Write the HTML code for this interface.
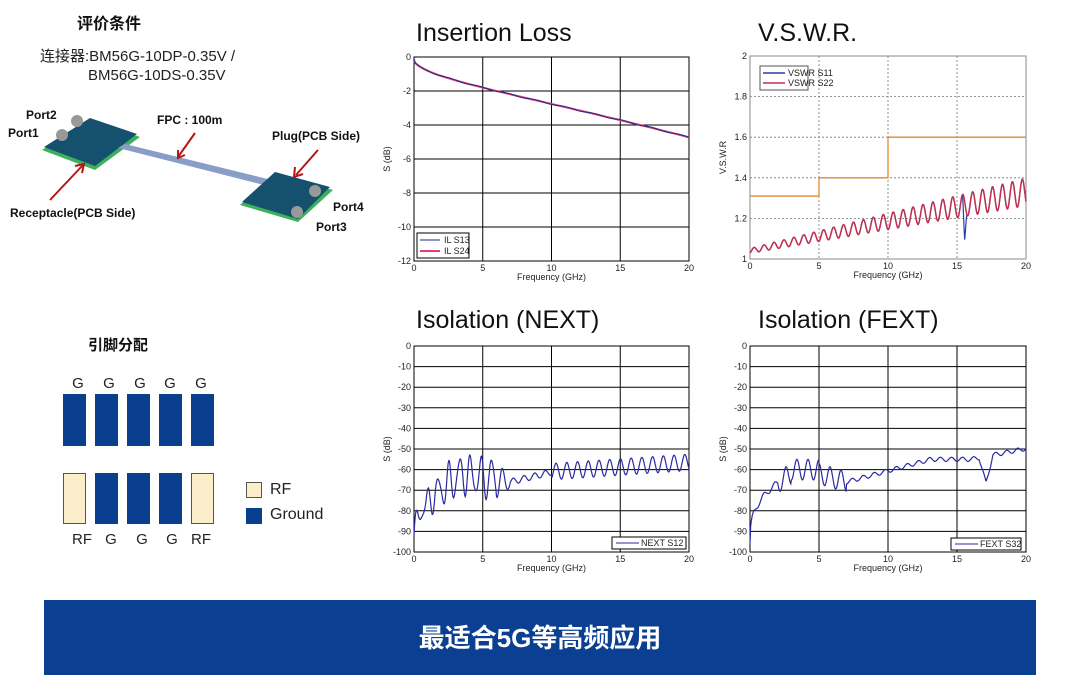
<!DOCTYPE html>
<html><head><meta charset="utf-8"><style>
html,body{margin:0;padding:0;background:#fff;}
svg{display:block;font-family:"Liberation Sans","Noto Sans CJK SC",sans-serif;}
.t{font-size:9px;fill:#222}
.ti{font-size:25px;fill:#111}
</style></head><body>
<svg id="s" width="1070" height="687" viewBox="0 0 1070 687" xmlns="http://www.w3.org/2000/svg">
<rect width="1070" height="687" fill="#fff"/>
<text x="77" y="29" font-size="16" font-weight="bold" fill="#111">评价条件</text>
<text x="40" y="61" font-size="15" fill="#222">连接器:BM56G-10DP-0.35V /</text>
<text x="88" y="80" font-size="15" fill="#222">BM56G-10DS-0.35V</text>
<polygon points="42,150 90,120 140,137 95,170" fill="#3cb05a"/>
<polygon points="44,147 90,118 137,134 95,166" fill="#15506e"/>
<polygon points="118,148 125,144 280,182 272,187" fill="#8a9cc8"/>
<polygon points="240,205 275,175 333,190 298,222" fill="#3cb05a"/>
<polygon points="242,202 275,172 330,187 298,219" fill="#15506e"/>
<circle cx="62" cy="135" r="6" fill="#999"/><circle cx="77" cy="121" r="6" fill="#999"/>
<circle cx="297" cy="212" r="6" fill="#999"/><circle cx="315" cy="191" r="6" fill="#999"/>
<text x="26" y="119" font-size="12" font-weight="bold" fill="#111">Port2</text>
<text x="8" y="137" font-size="12" font-weight="bold" fill="#111">Port1</text>
<text x="157" y="124" font-size="12" font-weight="bold" fill="#111">FPC : 100m</text>
<text x="272" y="140" font-size="12" font-weight="bold" fill="#111">Plug(PCB Side)</text>
<text x="10" y="217" font-size="12" font-weight="bold" fill="#111">Receptacle(PCB Side)</text>
<text x="333" y="211" font-size="12" font-weight="bold" fill="#111">Port4</text>
<text x="316" y="231" font-size="12" font-weight="bold" fill="#111">Port3</text>
<g stroke="#b01818" stroke-width="2" fill="none">
<line x1="195" y1="133" x2="178" y2="157"/><polyline points="178,150 178,158 185,155"/>
<line x1="318" y1="150" x2="296" y2="175"/><polyline points="295,167 294,177 303,174"/>
<line x1="50" y1="200" x2="83" y2="165"/><polyline points="75,166 84,164 82,173"/>
</g>
<text x="88" y="350" font-size="15" font-weight="bold" fill="#111">引脚分配</text>
<g font-size="15" fill="#222" text-anchor="middle">
<text x="78" y="388">G</text><text x="109" y="388">G</text><text x="140" y="388">G</text><text x="170" y="388">G</text><text x="201" y="388">G</text>
<text x="82" y="544">RF</text><text x="111" y="544">G</text><text x="142" y="544">G</text><text x="172" y="544">G</text><text x="201" y="544">RF</text>
</g>
<g fill="#0a3f8f">
<rect x="63" y="394" width="23" height="52"/><rect x="95" y="394" width="23" height="52"/><rect x="127" y="394" width="23" height="52"/><rect x="159" y="394" width="23" height="52"/><rect x="191" y="394" width="23" height="52"/>
<rect x="95" y="473" width="23" height="51"/><rect x="127" y="473" width="23" height="51"/><rect x="159" y="473" width="23" height="51"/>
<rect x="246" y="508" width="16" height="16"/>
</g>
<g fill="#fbeecb" stroke="#555" stroke-width="1">
<rect x="63.5" y="473.5" width="22" height="50"/><rect x="191.5" y="473.5" width="22" height="50"/><rect x="246.5" y="482.5" width="15" height="15"/>
</g>
<text x="270" y="494" font-size="16" fill="#222">RF</text>
<text x="270" y="519" font-size="16" fill="#222">Ground</text>
<text class="ti" x="416" y="41">Insertion Loss</text>
<text class="ti" x="758" y="41">V.S.W.R.</text>
<text class="ti" x="416" y="328">Isolation (NEXT)</text>
<text class="ti" x="758" y="328">Isolation (FEXT)</text>
<g id="plots"></g>
<rect x="44" y="600" width="992" height="75" fill="#0b3f91"/>
<text x="540" y="647" font-size="26" font-weight="bold" fill="#fff" text-anchor="middle">最适合5G等高频应用</text>
</svg>
<script>
var NS="http://www.w3.org/2000/svg",G=document.getElementById("plots");
function el(t,a,txt){var e=document.createElementNS(NS,t);for(var k in a)e.setAttribute(k,a[k]);if(txt!=null)e.textContent=txt;G.appendChild(e);return e;}
function plot(o){
 var x0=o.x0,x1=o.x1,y0=o.y0,y1=o.y1;
 el("rect",{x:x0,y:y0,width:x1-x0,height:y1-y0,fill:"#fff",stroke:o.dash?"#888":"#000","stroke-width":1});
 for(var i=0;i<=4;i++){var x=x0+(x1-x0)*i/4;
  if(i>0&&i<4)el("line",{x1:x,y1:y0,x2:x,y2:y1,stroke:o.dash?"#777":"#000","stroke-width":o.dash?0.8:1,"stroke-dasharray":o.dash?"2,2":""});
  el("text",{x:x,y:y1+10,"text-anchor":"middle",class:"t"},String(i*5));}
 var n=o.ticks.length-1;
 for(var j=0;j<=n;j++){var y=y0+(y1-y0)*j/n;
  if(j>0&&j<n)el("line",{x1:x0,y1:y,x2:x1,y2:y,stroke:o.dash?"#777":"#000","stroke-width":o.dash?0.8:1,"stroke-dasharray":o.dash?"2,2":""});
  el("text",{x:x0-3,y:y+3,"text-anchor":"end",class:"t"},o.ticks[j]);}
 el("text",{x:(x0+x1)/2,y:y1+19,"text-anchor":"middle",class:"t","font-size":"10"},"Frequency (GHz)");
 el("text",{transform:"translate("+(x0-24)+","+((y0+y1)/2)+") rotate(-90)","text-anchor":"middle",class:"t"},o.ylab);
 var X=function(f){return x0+(x1-x0)*f/20},Y=function(v){return y0+(y1-y0)*(o.top-v)/(o.top-o.bot)};
 o.series.forEach(function(s){var d="";for(var f=0;f<=20.0001;f+=0.04){var v=s.fn(f);d+=(d?"L":"M")+X(f).toFixed(1)+","+Y(v).toFixed(1);}
  el("path",{d:d,fill:"none",stroke:s.c,"stroke-width":s.w||1});});
 return {X:X,Y:Y};
}
plot({x0:414,x1:689,y0:57,y1:261,top:0,bot:-12,ticks:["0","-2","-4","-6","-8","-10","-12"],ylab:"S (dB)",
 series:[{c:"#e0407a",w:2,fn:function(f){return -0.15-0.62*Math.sqrt(f)-0.04*f-0.0025*f*f}},
         {c:"#1a2a80",w:1,fn:function(f){return -0.15-0.62*Math.sqrt(f)-0.04*f-0.0025*f*f+0.03*Math.sin(f*3)}}]});
el("rect",{x:417,y:233,width:52,height:25,fill:"#fff",stroke:"#000"});
el("line",{x1:420,y1:240,x2:440,y2:240,stroke:"#1a2a80"});el("text",{x:444,y:243,class:"t","font-size":"8"},"IL S13");
el("line",{x1:420,y1:251,x2:440,y2:251,stroke:"#e0407a","stroke-width":2});el("text",{x:444,y:254,class:"t","font-size":"8"},"IL S24");
function vs(f){var b=1.04+0.0145*f,a=0.012+0.0028*f;return b+a*Math.sin(f*2*Math.PI/0.72-1);}
var v=plot({x0:750,x1:1026,y0:56,y1:259,top:2,bot:1,dash:true,ticks:["2","1.8","1.6","1.4","1.2","1"],ylab:"V.S.W.R",
 series:[{c:"#2a3aa8",w:1.2,fn:function(f){var r=vs(f);if(Math.abs(f-15.55)<0.15)r-=0.2*(1-Math.abs(f-15.55)/0.15);return r}},
         {c:"#c03050",w:1.5,fn:vs}]});
el("path",{d:"M"+v.X(0)+","+v.Y(1.31)+"H"+v.X(5)+"V"+v.Y(1.4)+"H"+v.X(10)+"V"+v.Y(1.6)+"H"+v.X(20),fill:"none",stroke:"#e08a30","stroke-width":1.3});
el("rect",{x:760,y:66,width:48,height:24,fill:"#fff",stroke:"#555"});
el("line",{x1:763,y1:73,x2:785,y2:73,stroke:"#2a3aa8","stroke-width":1.5});el("text",{x:788,y:76,class:"t","font-size":"7"},"VSWR S11");
el("line",{x1:763,y1:83,x2:785,y2:83,stroke:"#c03050","stroke-width":1.5});el("text",{x:788,y:86,class:"t","font-size":"7"},"VSWR S22");
var dbt=["0","-10","-20","-30","-40","-50","-60","-70","-80","-90","-100"];
plot({x0:414,x1:689,y0:346,y1:552,top:0,bot:-100,ticks:dbt,ylab:"S (dB)",
 series:[{c:"#2a2aa0",w:1.2,fn:function(f){var b;if(f<3.5)b=-92+30*Math.sqrt(f/3.5);else if(f<7)b=-62-(f-3.5)*1.2;else if(f<10)b=-66+(f-7)*1.6;else b=-61+(f-10)*0.45;
  var a=f<7?9*Math.min(1,0.4+f/4)*(f<5.5?1:(7-f)/1.5+0.3):(f<10?1.5:4);return b+a*Math.sin(f*2*Math.PI/0.78)+(f<6?2*Math.sin(f*13):0)}}]});
el("rect",{x:612,y:537,width:74,height:12,fill:"#fff",stroke:"#000"});
el("line",{x1:616,y1:543,x2:639,y2:543,stroke:"#2a2aa0"});el("text",{x:641,y:546,class:"t","font-size":"8"},"NEXT S12");
plot({x0:750,x1:1026,y0:346,y1:552,top:0,bot:-100,ticks:dbt,ylab:"S (dB)",
 series:[{c:"#2a2aa0",w:1.2,fn:function(f){var b;if(f<3)b=-96+34*Math.pow(f/3,0.35);else if(f<5)b=-60;else if(f<7)b=-62-(f-5)*2;else if(f<13)b=-66+(f-7)*1.8;else if(f<16)b=-55;else b=-55+(f-16)*1.3;
  var a=f<2?1.5:(f<7?5:1);var r=b+a*Math.sin(f*2*Math.PI/0.8);r-=13*Math.max(0,1-Math.abs(f-17.1)/0.5);return r}}]});
el("rect",{x:951,y:538,width:70,height:12,fill:"#fff",stroke:"#000"});
el("line",{x1:955,y1:544,x2:978,y2:544,stroke:"#2a2aa0"});el("text",{x:980,y:547,class:"t","font-size":"8"},"FEXT S32");
</script>
</body></html>
